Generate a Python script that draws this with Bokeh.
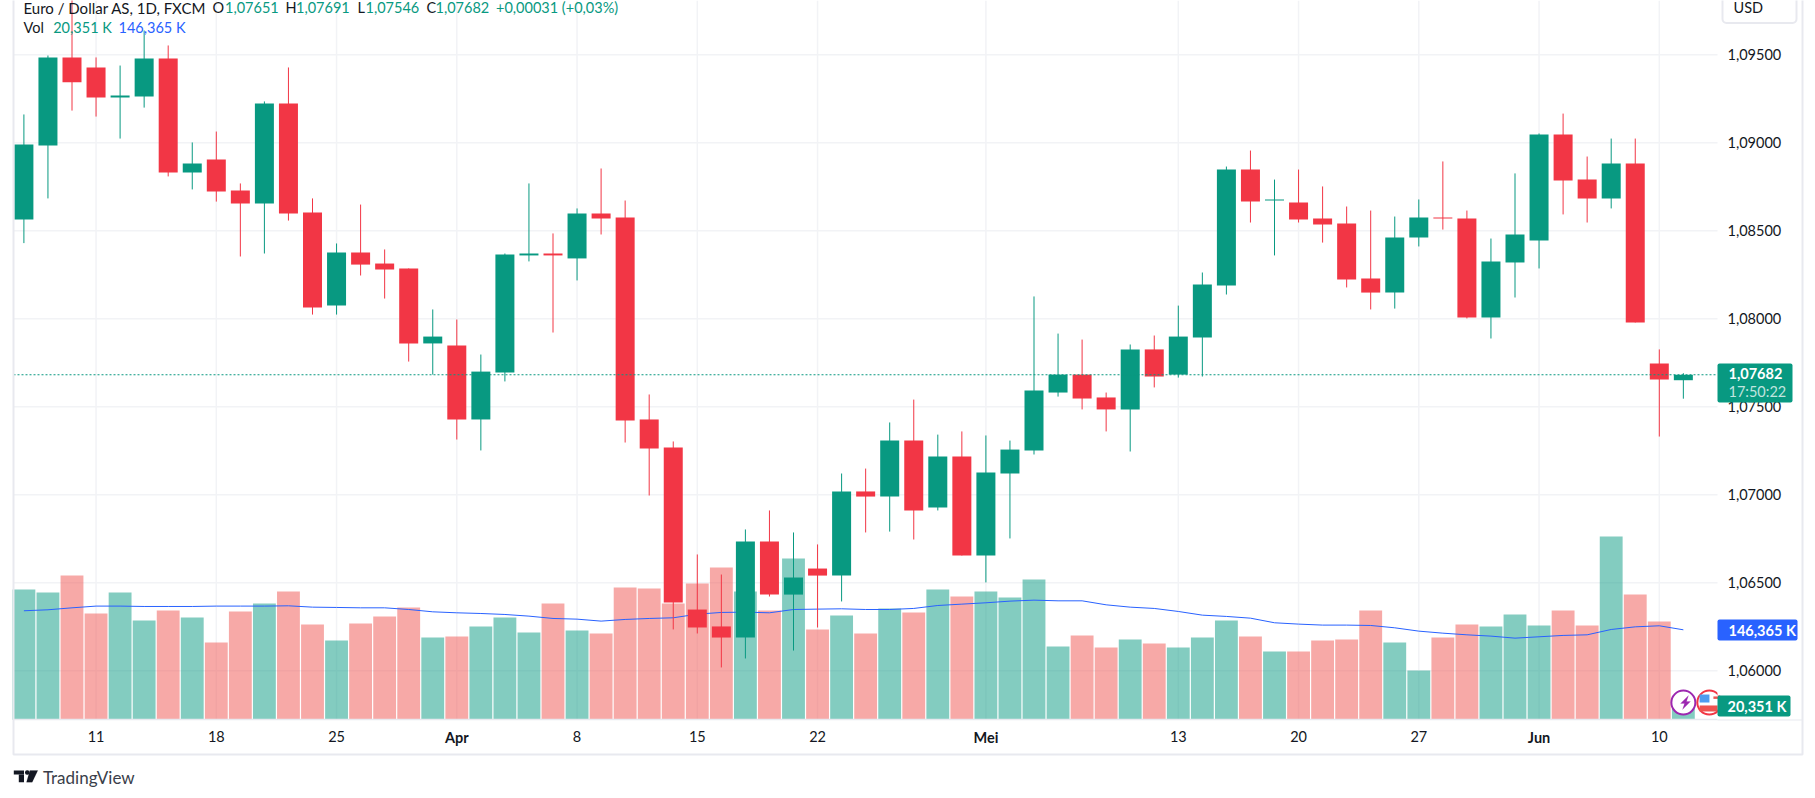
from bokeh.plotting import figure
from bokeh.models import (ColumnDataSource, Range1d, LinearAxis, FixedTicker, Label, BoxAnnotation, PolyAnnotation)
from bokeh.embed import file_html
from bokeh.resources import INLINE

OPEN = [1.08564,1.08985,1.09485,1.09428,1.09257,1.09263,1.09479,1.08831,1.08905,1.08729,
        1.08655,1.09223,1.08604,1.08075,1.08377,1.08314,1.08286,1.07860,1.07848,1.07428,
        1.07695,1.08360,1.08371,1.08343,1.08598,1.08576,1.07428,1.07269,1.06348,1.06252,
        1.06189,1.06735,1.06433,1.06581,1.06541,1.07019,1.06990,1.07308,1.06928,1.07217,
        1.06655,1.07121,1.07252,1.07581,1.07683,1.07553,1.07485,1.07826,1.07683,1.07894,
        1.08189,1.08848,1.08672,1.08661,1.08570,1.08541,1.08229,1.08149,1.08462,1.08576,
        1.08570,1.08007,1.08320,1.08445,1.09047,1.08791,1.08684,1.08882,1.07746,1.07651]
HIGH = [1.09161,1.09496,1.09820,1.09485,1.09439,1.09638,1.09553,1.09002,1.09064,1.08769,
        1.09235,1.09428,1.08684,1.08428,1.08649,1.08394,1.08286,1.08053,1.07996,1.07797,
        1.08371,1.08769,1.08485,1.08627,1.08854,1.08672,1.07570,1.07303,1.06661,1.06547,
        1.06803,1.06911,1.06786,1.06718,1.07121,1.07149,1.07411,1.07541,1.07342,1.07360,
        1.07337,1.07308,1.08127,1.07916,1.07882,1.07581,1.07854,1.07905,1.08075,1.08263,
        1.08865,1.08956,1.08791,1.08848,1.08752,1.08638,1.08615,1.08581,1.08678,1.08894,
        1.08615,1.08456,1.08826,1.09053,1.09166,1.08922,1.09024,1.09024,1.07826,1.07691]
LOW = [1.08430,1.08684,1.09183,1.09149,1.09024,1.09200,1.08809,1.08735,1.08666,1.08354,
       1.08371,1.08558,1.08024,1.08024,1.08246,1.08115,1.07757,1.07683,1.07314,1.07252,
       1.07644,1.08326,1.07922,1.08218,1.08479,1.07297,1.06996,1.06235,1.06212,1.06019,
       1.06070,1.06422,1.06115,1.06246,1.06394,1.06786,1.06791,1.06746,1.06911,1.06655,
       1.06502,1.06752,1.07229,1.07558,1.07485,1.07360,1.07246,1.07610,1.07666,1.07672,
       1.08138,1.08547,1.08360,1.08547,1.08433,1.08178,1.08053,1.08058,1.08411,1.08507,
       1.08002,1.07888,1.08121,1.08286,1.08593,1.08547,1.08627,1.07979,1.07331,1.07546]
CLOSE = [1.08990,1.09485,1.09344,1.09257,1.09269,1.09479,1.08831,1.08882,1.08723,1.08655,
         1.09223,1.08598,1.08064,1.08377,1.08308,1.08280,1.07860,1.07899,1.07428,1.07700,
         1.08365,1.08371,1.08360,1.08598,1.08570,1.07422,1.07263,1.06388,1.06246,1.06189,
         1.06735,1.06433,1.06530,1.06541,1.07019,1.06990,1.07308,1.06911,1.07217,1.06655,
         1.07127,1.07257,1.07592,1.07683,1.07547,1.07485,1.07826,1.07672,1.07899,1.08195,
         1.08848,1.08666,1.08678,1.08564,1.08536,1.08223,1.08149,1.08462,1.08576,1.08570,
         1.08007,1.08326,1.08479,1.09047,1.08786,1.08684,1.08882,1.07979,1.07655,1.07682]
VOLUME_K = [212.0,207.1,234.7,172.9,207.1,161.5,177.8,166.4,125.8,176.2,
            189.2,208.7,155.0,129.0,156.7,168.1,182.7,133.9,135.5,151.8,
            166.4,142.0,189.2,145.3,140.4,215.2,213.6,189.2,221.7,247.7,
            208.7,177.8,262.4,146.9,169.7,140.4,181.1,174.6,212.0,200.6,
            208.7,199.0,228.2,119.3,137.2,117.6,130.6,124.1,117.6,133.9,
            161.5,135.5,111.1,111.1,129.0,130.6,177.8,125.8,80.2,133.9,
            155.0,151.8,171.3,153.4,177.8,153.4,298.2,203.8,159.9,20.351]
VOLUME_MA_K = [177.3,178.9,182.1,184.9,184.9,184.3,184.3,184.3,184.9,184.9,
               184.9,185.4,183.2,182.7,182.1,182.1,179.4,175.6,174.0,172.9,
               171.3,168.6,164.8,163.7,160.5,163.2,164.8,165.9,171.8,174.6,
               175.1,174.0,179.4,180.0,180.5,179.4,179.4,181.1,185.9,188.1,
               190.3,193.0,194.6,193.5,193.5,187.0,183.2,181.1,176.2,170.2,
               168.1,165.3,157.8,155.6,154.0,154.0,153.4,149.6,144.2,140.9,
               138.2,136.1,132.8,135.0,137.2,138.2,146.9,151.2,152.9,146.365]
DAY_TICKS = [3, 8, 13, 23, 28, 33, 48, 53, 58, 68]
DAY_LABELS = ["11", "18", "25", "8", "15", "22", "13", "20", "27", "10"]
MONTH_TICKS = [18, 40, 63]
MONTH_LABELS = ["Apr", "Mei", "Jun"]
PRICE_TICKS = [1.06, 1.065, 1.07, 1.075, 1.08, 1.085, 1.09, 1.095]
PRICE_LABELS = ["1,06000", "1,06500", "1,07000", "1,07500", "1,08000", "1,08500", "1,09000", "1,09500"]

GREEN = "#089981"
RED = "#F23645"
VRED = "#EF5350"
BLUE = "#2962FF"
PURPLE = "#9C27B0"
GRID = "#F2F3F6"
EDGE = "#E8E9EF"
INK = "#131722"
FONT = "Lato"
W, H = 1815, 798

# The plotting frame spans the whole canvas; the chart's panes sit at these edges.
X_PER_BAR = 24.05
X_FIRST_BAR = 23.4
PX_PER_PRICE = 17600.0
PRICE_AT_TOP = 1.098085
PANE_LEFT = (13 - X_FIRST_BAR) / X_PER_BAR
PANE_RIGHT = (1717 - X_FIRST_BAR) / X_PER_BAR
PANE_BOTTOM = PRICE_AT_TOP - 719.3 / PX_PER_PRICE
PRICE_AT_CANVAS_BOTTOM = PRICE_AT_TOP - H / PX_PER_PRICE
VOL_PER_PX = 1.6263

idx = list(range(len(OPEN)))
up = [c >= o for o, c in zip(OPEN, CLOSE)]
src = ColumnDataSource(dict(
    x=idx, o=OPEN, h=HIGH, l=LOW, c=CLOSE, v=VOLUME_K, ma=VOLUME_MA_K,
    top=[max(a, b) for a, b in zip(OPEN, CLOSE)],
    bot=[min(a, b) for a, b in zip(OPEN, CLOSE)],
    col=[GREEN if u else RED for u in up],
    vcol=[GREEN if u else VRED for u in up],
))

p = figure(width=W, height=H, output_backend="svg", toolbar_location=None,
           x_range=Range1d(-X_FIRST_BAR / X_PER_BAR, (W - X_FIRST_BAR) / X_PER_BAR),
           y_range=Range1d(PRICE_AT_CANVAS_BOTTOM, PRICE_AT_TOP),
           min_border=0, y_axis_location=None, x_axis_location=None,
           background_fill_color="white", border_fill_color="white", outline_line_color=None)
p.extra_y_ranges = {"vol": Range1d(-(H - 719.3) * VOL_PER_PX, 719.3 * VOL_PER_PX)}

all_ticks = sorted(DAY_TICKS + MONTH_TICKS)
overrides = dict(zip(DAY_TICKS, DAY_LABELS))
overrides.update({m: "" for m in MONTH_TICKS})
xaxis = LinearAxis(ticker=FixedTicker(ticks=all_ticks), major_label_overrides=overrides,
                   fixed_location=PANE_BOTTOM, axis_line_color=EDGE, axis_line_width=1.5,
                   major_tick_line_color=None, minor_tick_line_color=None,
                   major_label_text_font=FONT, major_label_text_font_size="14.5px",
                   major_label_text_color=INK, major_label_standoff=5, bounds=(PANE_LEFT, PANE_RIGHT))
p.add_layout(xaxis, "below")

yaxis = LinearAxis(ticker=FixedTicker(ticks=PRICE_TICKS),
                   major_label_overrides=dict(zip(PRICE_TICKS, PRICE_LABELS)),
                   fixed_location=PANE_RIGHT, axis_line_color=None,
                   major_tick_line_color=None, minor_tick_line_color=None,
                   major_label_text_font=FONT, major_label_text_font_size="14.5px",
                   major_label_text_color=INK, major_label_standoff=4)
p.add_layout(yaxis, "right")

p.grid.visible = False
# grid lines stop at the pane's edges
p.segment(x0=[PANE_LEFT] * len(PRICE_TICKS), x1=[PANE_RIGHT] * len(PRICE_TICKS),
          y0=PRICE_TICKS, y1=PRICE_TICKS, line_color=GRID, line_width=1.5, level="underlay")
p.segment(x0=all_ticks, x1=all_ticks, y0=[PANE_BOTTOM] * len(all_ticks), y1=[PRICE_AT_TOP] * len(all_ticks),
          line_color=GRID, line_width=1.5, level="underlay")

p.vbar(x="x", top="v", bottom=0, width=0.95, fill_color="vcol", fill_alpha=0.5,
       line_color=None, source=src, y_range_name="vol")
p.line("x", "ma", line_color=BLUE, line_width=1, source=src, y_range_name="vol")
p.segment(x0="x", x1="x", y0="l", y1="h", line_color="col", line_width=1, source=src)
p.vbar(x="x", top="top", bottom="bot", width=0.79, fill_color="col", line_color=None, source=src)

p.segment(x0=[PANE_LEFT], x1=[PANE_RIGHT], y0=[CLOSE[-1]], y1=[CLOSE[-1]], line_color=GREEN,
          line_width=1, line_dash="2 2")

# event icons over the last bar
p.scatter([69], [28], y_range_name="vol", marker="circle", size=24, fill_color="white",
          line_color=PURPLE, line_width=2)
p.scatter([70.08], [28], y_range_name="vol", marker="circle", size=24, fill_color="white",
          line_color=RED, line_width=2)
p.rect([69.88], [34.6], width=0.41, height=13, y_range_name="vol", fill_color="#4F9CF0", line_color=None)
p.rect([70.05], [18.4], width=0.75, height=9.8, y_range_name="vol", fill_color="#EF5350", line_color=None)
p.rect([70.4], [36], width=0.3, height=4, y_range_name="vol", fill_color="#EF5350", line_color=None)


def txt(x, y, s, color=INK, size="14.5px", style="normal", align="left", alpha=1.0):
    p.add_layout(Label(x=x, y=y, x_units="canvas", y_units="canvas", text=s, text_color=color,
                       text_font=FONT, text_font_size=size, text_font_style=style,
                       text_align=align, text_baseline="middle", text_alpha=alpha, level="overlay"))


def box(l, r, t, b, fill, line=None, radius=0, width=1):
    p.add_layout(BoxAnnotation(left=l, right=r, top=t, bottom=b, left_units="canvas", right_units="canvas",
                               top_units="canvas", bottom_units="canvas", fill_color=fill or "white",
                               fill_alpha=1.0 if fill else 0, line_color=line or "white", line_width=width,
                               line_alpha=1 if line else 0, border_radius=radius, level="overlay"))


def poly(xs, ys, fill):
    p.add_layout(PolyAnnotation(xs=xs, ys=ys, xs_units="canvas", ys_units="canvas", fill_color=fill,
                                fill_alpha=1, line_color=fill, line_width=0.5, level="overlay"))


# outer chart frame
box(13, 1802, -10, 754, None, EDGE, 0, 2)
box(1717, 1802, 719, 720, EDGE)
box(1717, 1730, 685, 695, "white")

# header
txt(23, 7, "Euro / Dollar AS, 1D, FXCM", INK, "15px")
for x, s, c in [(212, "O", INK), (224.5, "1,07651", GREEN),
                (285, "H", INK), (295.5, "1,07691", GREEN), (357, "L", INK), (365, "1,07546", GREEN),
                (426, "C", INK), (435, "1,07682", GREEN), (495.5, "+0,00031 (+0,03%)", GREEN)]:
    txt(x, 7, s, c)
txt(23, 27, "Vol")
txt(52.7, 27, "20,351 K", GREEN)
txt(118, 27, "146,365 K", BLUE)

# month labels
for t, s in zip(MONTH_TICKS, MONTH_LABELS):
    p.add_layout(Label(x=t, y=737, y_units="canvas", text=s, text_color=INK, text_font=FONT,
                       text_font_size="14.5px", text_font_style="bold", text_align="center",
                       text_baseline="middle"))

# price scale tags
box(1717, 1792, 363, 402, GREEN, None, 2)
txt(1728, 373, "1,07682", "white", "14.5px", "bold")
txt(1728, 391, "17:50:22", "white", alpha=0.75)
box(1717, 1797, 619, 640, BLUE, None, 2)
txt(1728, 629.5, "146,365 K", "white", "14.5px", "bold")
box(1717, 1790, 695, 716, GREEN, None, 2)
txt(1727, 705.5, "20,351 K", "white", "14.5px", "bold")
poly([1688, 1680, 1684, 1682, 1690, 1686], [695, 703, 703, 709, 701, 701], PURPLE)

# currency button
box(1722, 1796, -10, 22.5, "white", EDGE, 4, 2)
txt(1733, 7, "USD")

# brand
box(13.3, 23.5, 770, 774, INK)
box(18.3, 23.5, 774, 781.7, INK)
box(24.5, 29, 769.8, 774.3, INK, None, 2)
poly([29.3, 37.3, 31.7, 26], [770, 770, 781.7, 781.7], INK)
txt(42.4, 777, "TradingView", "#3a3e4a", "17px")

open("out.html", "w").write(file_html(p, INLINE))
